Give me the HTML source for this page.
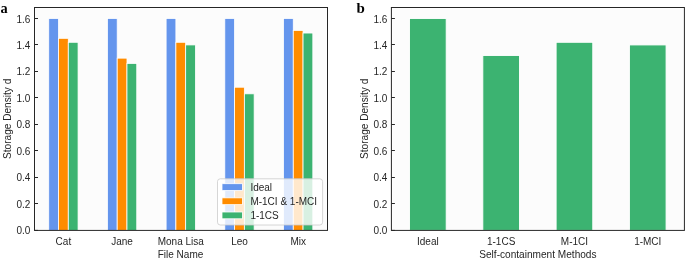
<!DOCTYPE html><html><head><meta charset="utf-8"><style>html,body{margin:0;padding:0;background:#fff;width:685px;height:258px;overflow:hidden}svg{display:block;will-change:transform}text{font-family:"Liberation Sans",sans-serif;fill:#262626}.pl{font-family:"Liberation Serif",serif;font-weight:bold;fill:#000}</style></head><body>
<svg width="685" height="258" viewBox="0 0 685 258">
<rect x="35.7" y="8.7" width="290.6" height="220.5" fill="#fcfcfc"/>
<rect x="48.73" y="18.51" width="9.78" height="211.89" fill="#6495ED" stroke="#fff" stroke-width="0.8"/>
<rect x="58.51" y="38.33" width="9.78" height="192.07" fill="#FF8C00" stroke="#fff" stroke-width="0.8"/>
<rect x="68.29" y="42.29" width="9.78" height="188.11" fill="#3CB371" stroke="#fff" stroke-width="0.8"/>
<rect x="107.42" y="18.51" width="9.78" height="211.89" fill="#6495ED" stroke="#fff" stroke-width="0.8"/>
<rect x="117.20" y="58.15" width="9.78" height="172.25" fill="#FF8C00" stroke="#fff" stroke-width="0.8"/>
<rect x="126.98" y="63.43" width="9.78" height="166.97" fill="#3CB371" stroke="#fff" stroke-width="0.8"/>
<rect x="166.11" y="18.51" width="9.78" height="211.89" fill="#6495ED" stroke="#fff" stroke-width="0.8"/>
<rect x="175.89" y="42.29" width="9.78" height="188.11" fill="#FF8C00" stroke="#fff" stroke-width="0.8"/>
<rect x="185.67" y="44.93" width="9.78" height="185.47" fill="#3CB371" stroke="#fff" stroke-width="0.8"/>
<rect x="224.80" y="18.51" width="9.78" height="211.89" fill="#6495ED" stroke="#fff" stroke-width="0.8"/>
<rect x="234.58" y="87.22" width="9.78" height="143.18" fill="#FF8C00" stroke="#fff" stroke-width="0.8"/>
<rect x="244.36" y="93.83" width="9.78" height="136.57" fill="#3CB371" stroke="#fff" stroke-width="0.8"/>
<rect x="283.49" y="18.51" width="9.78" height="211.89" fill="#6495ED" stroke="#fff" stroke-width="0.8"/>
<rect x="293.27" y="30.40" width="9.78" height="200.00" fill="#FF8C00" stroke="#fff" stroke-width="0.8"/>
<rect x="303.05" y="33.04" width="9.78" height="197.36" fill="#3CB371" stroke="#fff" stroke-width="0.8"/>
<line x1="34.5" y1="230.40" x2="38.0" y2="230.40" stroke="#262626" stroke-width="1"/>
<text x="30.40" y="233.93" font-size="10" text-anchor="end">0.0</text>
<line x1="34.5" y1="203.50" x2="38.0" y2="203.50" stroke="#262626" stroke-width="1"/>
<text x="30.40" y="207.50" font-size="10" text-anchor="end">0.2</text>
<line x1="34.5" y1="177.50" x2="38.0" y2="177.50" stroke="#262626" stroke-width="1"/>
<text x="30.40" y="181.07" font-size="10" text-anchor="end">0.4</text>
<line x1="34.5" y1="150.50" x2="38.0" y2="150.50" stroke="#262626" stroke-width="1"/>
<text x="30.40" y="154.65" font-size="10" text-anchor="end">0.6</text>
<line x1="34.5" y1="124.50" x2="38.0" y2="124.50" stroke="#262626" stroke-width="1"/>
<text x="30.40" y="128.22" font-size="10" text-anchor="end">0.8</text>
<line x1="34.5" y1="97.50" x2="38.0" y2="97.50" stroke="#262626" stroke-width="1"/>
<text x="30.40" y="101.79" font-size="10" text-anchor="end">1.0</text>
<line x1="34.5" y1="71.50" x2="38.0" y2="71.50" stroke="#262626" stroke-width="1"/>
<text x="30.40" y="75.36" font-size="10" text-anchor="end">1.2</text>
<line x1="34.5" y1="44.50" x2="38.0" y2="44.50" stroke="#262626" stroke-width="1"/>
<text x="30.40" y="48.93" font-size="10" text-anchor="end">1.4</text>
<line x1="34.5" y1="18.50" x2="38.0" y2="18.50" stroke="#262626" stroke-width="1"/>
<text x="30.40" y="22.51" font-size="10" text-anchor="end">1.6</text>
<text x="63.40" y="244.6" font-size="10" text-anchor="middle">Cat</text>
<text x="122.09" y="244.6" font-size="10" text-anchor="middle">Jane</text>
<text x="180.78" y="244.6" font-size="10" text-anchor="middle">Mona Lisa</text>
<text x="239.47" y="244.6" font-size="10" text-anchor="middle">Leo</text>
<text x="298.16" y="244.6" font-size="10" text-anchor="middle">Mix</text>
<rect x="34.5" y="7.5" width="293.0" height="222.9" fill="none" stroke="#262626" stroke-width="1"/>
<text x="180.50" y="258.2" font-size="10" text-anchor="middle">File Name</text>
<text transform="translate(10.60,118.85) rotate(-90)" font-size="10.1" text-anchor="middle">Storage Density d</text>
<rect x="217.5" y="178.8" width="105.10000000000002" height="46.19999999999999" rx="2.8" ry="2.8" fill="#fff" fill-opacity="0.8" stroke="#cccccc" stroke-width="0.8"/>
<rect x="222" y="183.70" width="20.4" height="6.8" fill="#6495ED" stroke="#fff" stroke-width="0.8"/>
<text x="250.4" y="190.70" font-size="10">Ideal</text>
<rect x="222" y="197.85" width="20.4" height="6.8" fill="#FF8C00" stroke="#fff" stroke-width="0.8"/>
<text x="250.4" y="204.85" font-size="10">M-1CI &amp; 1-MCI</text>
<rect x="222" y="212.00" width="20.4" height="6.8" fill="#3CB371" stroke="#fff" stroke-width="0.8"/>
<text x="250.4" y="219.00" font-size="10">1-1CS</text>
<rect x="392.59999999999997" y="8.7" width="290.6" height="220.5" fill="#fcfcfc"/>
<rect x="409.53" y="18.51" width="36.65" height="211.89" fill="#3CB371" stroke="#fff" stroke-width="0.9"/>
<rect x="482.83" y="55.51" width="36.65" height="174.89" fill="#3CB371" stroke="#fff" stroke-width="0.9"/>
<rect x="556.12" y="42.29" width="36.65" height="188.11" fill="#3CB371" stroke="#fff" stroke-width="0.9"/>
<rect x="629.42" y="44.93" width="36.65" height="185.47" fill="#3CB371" stroke="#fff" stroke-width="0.9"/>
<line x1="391.4" y1="230.40" x2="394.9" y2="230.40" stroke="#262626" stroke-width="1"/>
<text x="387.40" y="233.93" font-size="10" text-anchor="end">0.0</text>
<line x1="391.4" y1="203.50" x2="394.9" y2="203.50" stroke="#262626" stroke-width="1"/>
<text x="387.40" y="207.50" font-size="10" text-anchor="end">0.2</text>
<line x1="391.4" y1="177.50" x2="394.9" y2="177.50" stroke="#262626" stroke-width="1"/>
<text x="387.40" y="181.07" font-size="10" text-anchor="end">0.4</text>
<line x1="391.4" y1="150.50" x2="394.9" y2="150.50" stroke="#262626" stroke-width="1"/>
<text x="387.40" y="154.65" font-size="10" text-anchor="end">0.6</text>
<line x1="391.4" y1="124.50" x2="394.9" y2="124.50" stroke="#262626" stroke-width="1"/>
<text x="387.40" y="128.22" font-size="10" text-anchor="end">0.8</text>
<line x1="391.4" y1="97.50" x2="394.9" y2="97.50" stroke="#262626" stroke-width="1"/>
<text x="387.40" y="101.79" font-size="10" text-anchor="end">1.0</text>
<line x1="391.4" y1="71.50" x2="394.9" y2="71.50" stroke="#262626" stroke-width="1"/>
<text x="387.40" y="75.36" font-size="10" text-anchor="end">1.2</text>
<line x1="391.4" y1="44.50" x2="394.9" y2="44.50" stroke="#262626" stroke-width="1"/>
<text x="387.40" y="48.93" font-size="10" text-anchor="end">1.4</text>
<line x1="391.4" y1="18.50" x2="394.9" y2="18.50" stroke="#262626" stroke-width="1"/>
<text x="387.40" y="22.51" font-size="10" text-anchor="end">1.6</text>
<text x="427.85" y="244.6" font-size="10" text-anchor="middle">Ideal</text>
<text x="501.15" y="244.6" font-size="10" text-anchor="middle">1-1CS</text>
<text x="574.45" y="244.6" font-size="10" text-anchor="middle">M-1CI</text>
<text x="647.75" y="244.6" font-size="10" text-anchor="middle">1-MCI</text>
<rect x="391.4" y="7.5" width="293.0" height="222.9" fill="none" stroke="#262626" stroke-width="1"/>
<text x="537.90" y="258.2" font-size="10.1" text-anchor="middle">Self-containment Methods</text>
<text transform="translate(367.60,118.85) rotate(-90)" font-size="10.1" text-anchor="middle">Storage Density d</text>
<text class="pl" transform="translate(0.5,12.6) scale(0.96,1)" font-size="15">a</text>
<text class="pl" x="356.5" y="12.6" font-size="15">b</text>
</svg></body></html>
